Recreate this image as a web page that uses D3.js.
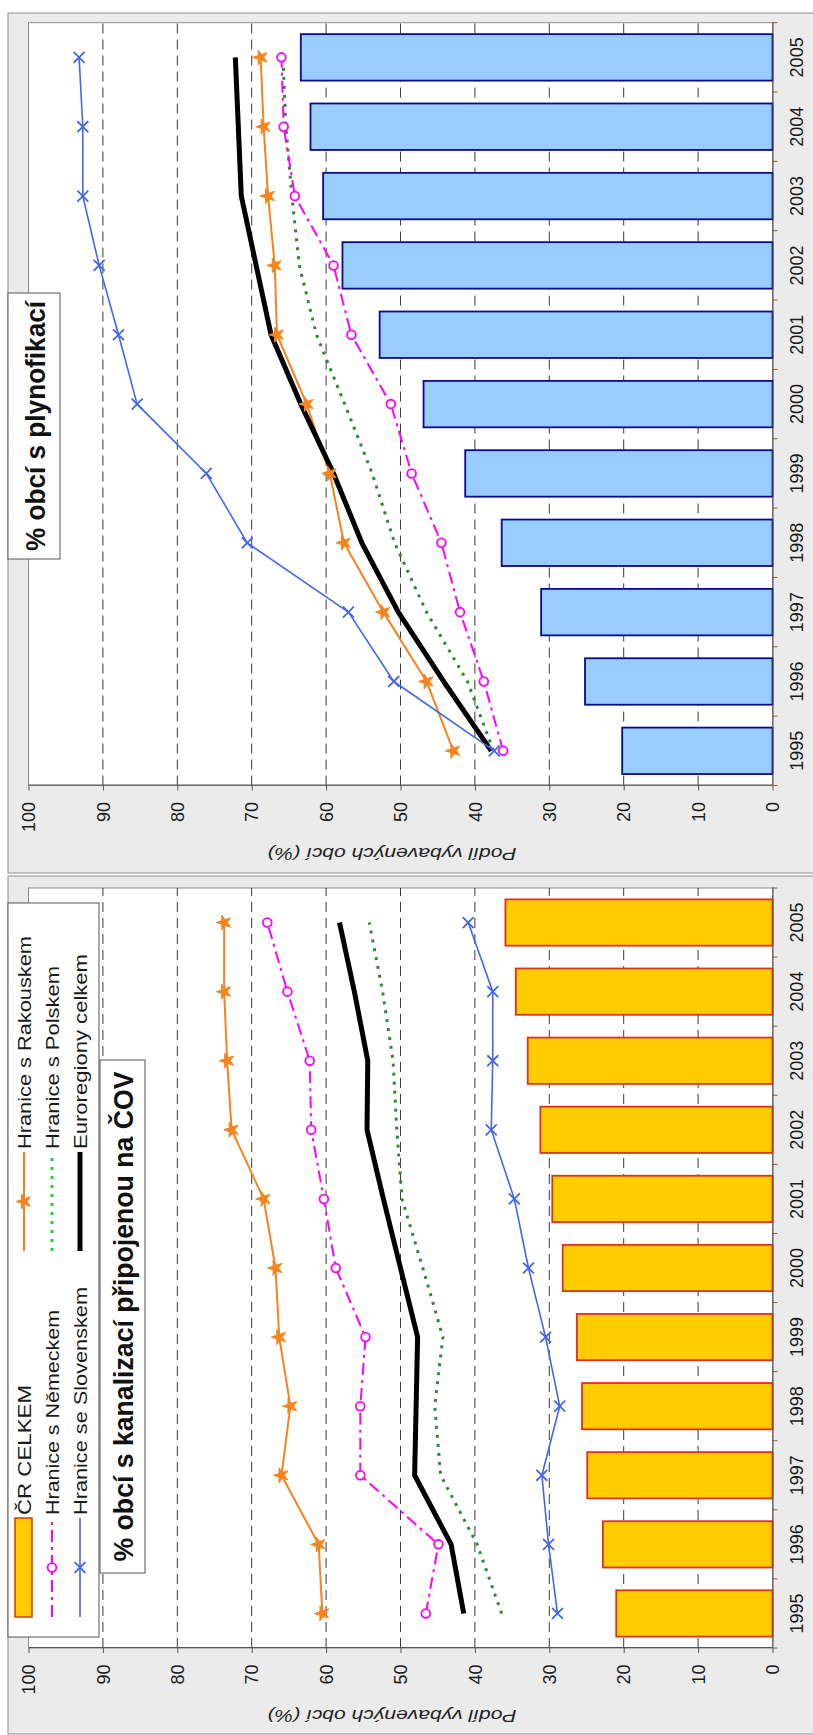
<!DOCTYPE html>
<html><head><meta charset="utf-8">
<script src="https://cdn.jsdelivr.net/npm/d3@7"></script>
<style>
html,body{margin:0;padding:0;background:#fff;}
svg{display:block;font-family:"Liberation Sans",Arial,sans-serif;}
</style>
</head><body>
<svg id="c" width="813" height="1735"></svg>
<script>
// ---------------- DATA ----------------
const years = [1995,1996,1997,1998,1999,2000,2001,2002,2003,2004,2005];
const valueTicks = [0,10,20,30,40,50,60,70,80,90,100];
const gridTicks = [10,20,30,40,50,60,70,80,90];
const axisTitle = "Podíl vybavených obcí (%)";

// % obcí s kanalizací připojenou na ČOV
const kanCR   = [21.0, 22.8, 24.9, 25.6, 26.3, 28.2, 29.6, 31.2, 32.9, 34.5, 35.9];
const kanRak  = [60.5, 61.0, 66.0, 64.8, 66.3, 66.8, 68.4, 72.7, 73.3, 73.7, 73.7];
const kanNem  = [46.6, 44.9, 55.4, 55.4, 54.7, 58.7, 60.3, 62.0, 62.2, 65.2, 67.9];
const kanSlo  = [28.9, 30.1, 31.0, 28.6, 30.5, 32.8, 34.7, 37.8, 37.6, 37.6, 40.9];
const kanPol  = [36.4, 39.7, 44.6, 45.4, 44.3, 47.0, 49.8, 50.5, 51.0, 52.4, 54.2];
const kanEuro = [41.5, 43.2, 48.1, 47.9, 47.7, 50.0, 52.3, 54.5, 54.4, 56.2, 58.2];

// % obcí s plynofikací
const plynCR   = [20.2, 25.2, 31.1, 36.4, 41.3, 46.9, 52.8, 57.8, 60.4, 62.1, 63.4];
const plynRak  = [42.9, 46.5, 52.3, 57.6, 59.5, 62.6, 66.6, 66.9, 67.8, 68.4, 68.8];
const plynNem  = [36.2, 38.8, 42.0, 44.5, 48.5, 51.3, 56.6, 59.0, 64.2, 65.7, 66.0];
const plynSlo  = [37.4, 50.9, 57.0, 70.6, 76.1, 85.4, 87.9, 90.5, 92.7, 92.7, 93.2];
const plynPol  = [37.5, 41.0, 46.5, 50.8, 53.8, 57.5, 61.3, 63.6, 64.6, 65.4, 65.8];
const plynEuro = [37.8, 44.2, 50.3, 55.2, 59.0, 63.4, 67.4, 69.4, 71.4, 71.8, 72.2];

const barName = "ČR CELKEM";
const seriesNames = {
  Rak: "Hranice s Rakouskem",
  Nem: "Hranice s Německem",
  Slo: "Hranice se Slovenskem",
  Pol: "Hranice s Polskem",
  Euro: "Euroregiony celkem"
};
const panelData = [
  {title: "% obcí s kanalizací připojenou na ČOV", bars: kanCR,
   lines: {Rak: kanRak, Nem: kanNem, Slo: kanSlo, Pol: kanPol, Euro: kanEuro}, theme: "kan"},
  {title: "% obcí s plynofikací", bars: plynCR,
   lines: {Rak: plynRak, Nem: plynNem, Slo: plynSlo, Pol: plynPol, Euro: plynEuro}, theme: "plyn"}
];

// ---------------- STYLES / LAYOUT ----------------
const styles = {
  Rak:  {color: "#f5841f", width: 2,   dash: null,       marker: "star"},
  Nem:  {color: "#ff00ff", width: 2,   dash: "12,5,3,5", marker: "circle"},
  Slo:  {color: "#4466e8", width: 1.6, dash: null,       marker: "x"},
  Pol:  {color: "#2f8a2f", width: 3,   dash: "3,6",      marker: null},
  Euro: {color: "#000000", width: 5,   dash: null,       marker: null}
};
const drawOrder = ["Pol", "Nem", "Rak", "Euro", "Slo"];
const layout = {
  kan:  {box: [1, 859], plot: [87, 847], barFill: "#ffcc00", barStroke: "#e0301e",
         titleBox: [162, 675, 100, 145], titleBase: 133, titleLen: 490, legend: true},
  plyn: {box: [862, 1722], plot: [949.5, 1712.3], barFill: "#99ccff", barStroke: "#0a0a8c",
         titleBox: [1176, 1442, 8, 60], titleBase: 45, titleLen: 250, legend: false}
};
const W = 1735; // landscape width (rotated into portrait)
const FONT = '"Liberation Sans",Arial,sans-serif';

const svg = d3.select("#c");
const root = svg.append("g").attr("transform", `translate(0,${W}) rotate(-90)`);

const y = d3.scaleLinear().domain([0, 100]).range([772.5, 28.5]);

function markerPath(type) {
  if (type === "star") return d3.symbol().type(d3.symbolStar).size(70)();
  if (type === "x") {
    if (d3.symbolX) return d3.symbol().type(d3.symbolX).size(80)();
    return d3.symbol().type(d3.symbolCross).size(80)();
  }
  return d3.symbol().type(d3.symbolCircle).size(60)();
}

panelData.forEach(pd => {
  const L = layout[pd.theme];
  const g = root.append("g");
  const [p0, p1] = L.plot;

  // panel gray box
  g.append("rect").attr("x", L.box[0]).attr("y", 8)
    .attr("width", L.box[1] - L.box[0]).attr("height", 830)
    .attr("fill", "#ebebeb").attr("stroke", "#8c8c8c").attr("stroke-width", 1);

  // plot area
  g.append("rect").attr("x", p0).attr("y", y(100))
    .attr("width", p1 - p0).attr("height", y(0) - y(100))
    .attr("fill", "#fff").attr("stroke", "#8a8a8a").attr("stroke-width", 1);

  const xs = d3.scaleBand().domain(years).range([p0, p1]).padding(0);
  const bw = xs.bandwidth();
  const cx = d => xs(d) + bw / 2;

  // gridlines
  g.append("g").selectAll("line").data(gridTicks).join("line")
    .attr("x1", p0).attr("x2", p1).attr("y1", d => y(d)).attr("y2", d => y(d))
    .attr("stroke", "#3a3a3a").attr("stroke-width", 1).attr("stroke-dasharray", "10,6");

  // bars
  g.append("g").selectAll("rect").data(years.map((yr, i) => ({yr, v: pd.bars[i]}))).join("rect")
    .attr("x", d => xs(d.yr) + bw * 0.165).attr("width", bw * 0.67)
    .attr("y", d => y(d.v)).attr("height", d => y(0) - y(d.v))
    .attr("fill", L.barFill).attr("stroke", L.barStroke).attr("stroke-width", 1.8);

  // axes
  const ay = g.append("g").attr("transform", `translate(${p0},0)`)
    .call(d3.axisLeft(y).tickValues(valueTicks).tickSize(5).tickSizeOuter(0).tickPadding(11.5));
  ay.attr("font-size", null).attr("font-family", null);
  ay.select(".domain").attr("stroke", "#555");
  ay.selectAll(".tick line").attr("stroke", "#555");
  ay.selectAll(".tick text").attr("font-size", 18).attr("fill", "#1a1a1a")
    .attr("font-family", FONT).attr("dy", "0.34em");

  const ax = g.append("g").attr("transform", `translate(0,${y(0)})`)
    .call(d3.axisBottom(xs).tickSize(0).tickSizeOuter(0).tickPadding(17.5));
  ax.attr("font-size", null).attr("font-family", null);
  ax.select(".domain").attr("stroke", "#555");
  ax.selectAll(".tick text").attr("font-size", 18).attr("fill", "#1a1a1a").attr("font-family", FONT);

  // category boundary ticks
  g.append("g").selectAll("line").data(years.map(d => xs(d)).concat([p1])).join("line")
    .attr("x1", d => d).attr("x2", d => d).attr("y1", y(0)).attr("y2", y(0) + 5)
    .attr("stroke", "#8a5a3a").attr("stroke-width", 1);

  // axis title
  const tx = p0 - 62, ty = 392;
  g.append("text").attr("transform", `translate(${tx},${ty}) rotate(-90)`)
    .attr("text-anchor", "middle").attr("font-size", 16).attr("font-style", "italic")
    .attr("fill", "#222").attr("font-family", FONT)
    .attr("textLength", 249).attr("lengthAdjust", "spacingAndGlyphs")
    .text(axisTitle);

  // lines
  const line = d3.line().x(d => cx(d.yr)).y(d => y(d.v));
  drawOrder.forEach(k => {
    const st = styles[k];
    const pts = years.map((yr, i) => ({yr, v: pd.lines[k][i]}));
    g.append("path").datum(pts).attr("d", line)
      .attr("fill", "none").attr("stroke", st.color).attr("stroke-width", st.width)
      .attr("stroke-dasharray", st.dash).attr("stroke-linejoin", "round");
  });
  drawOrder.forEach(k => {
    const st = styles[k];
    if (!st.marker) return;
    const pts = years.map((yr, i) => ({yr, v: pd.lines[k][i]}));
    g.append("g").selectAll("path").data(pts).join("path")
      .attr("transform", d => `translate(${cx(d.yr)},${y(d.v)})`)
      .attr("d", markerPath(st.marker))
      .attr("fill", st.marker === "circle" ? "#fff" : (st.marker === "star" ? st.color : "none"))
      .attr("stroke", st.color).attr("stroke-width", st.marker === "star" ? 1 : 1.8);
  });

  // legend
  if (L.legend) {
    const lg = g.append("g");
    lg.append("rect").attr("x", 98).attr("y", 8).attr("width", 734).attr("height", 91)
      .attr("fill", "#fff").attr("stroke", "#555").attr("stroke-width", 1);
    const items = [
      {kind: "bar", name: barName, col: 0, row: 0, len: 130},
      {kind: "Nem", name: seriesNames.Nem, col: 0, row: 1, len: 205},
      {kind: "Slo", name: seriesNames.Slo, col: 0, row: 2, len: 228},
      {kind: "Rak", name: seriesNames.Rak, col: 1, row: 0, len: 213},
      {kind: "Pol", name: seriesNames.Pol, col: 1, row: 1, len: 183},
      {kind: "Euro", name: seriesNames.Euro, col: 1, row: 2, len: 195}
    ];
    const colX = [118, 484], rowY = [24, 52, 80], sw = 99;
    items.forEach(it => {
      const x0 = colX[it.col], yy = rowY[it.row];
      if (it.kind === "bar") {
        lg.append("rect").attr("x", x0).attr("y", yy - 9).attr("width", sw).attr("height", 17)
          .attr("fill", L.barFill).attr("stroke", "#c8400a").attr("stroke-width", 1.5);
      } else {
        const st = styles[it.kind];
        lg.append("line").attr("x1", x0).attr("x2", x0 + sw).attr("y1", yy).attr("y2", yy)
          .attr("stroke", it.kind === "Pol" ? "#33cc33" : st.color).attr("stroke-width", st.width)
          .attr("stroke-dasharray", st.dash);
        if (st.marker) {
          lg.append("path").attr("transform", `translate(${x0 + sw / 2},${yy})`)
            .attr("d", markerPath(st.marker))
            .attr("fill", st.marker === "circle" ? "#fff" : (st.marker === "star" ? st.color : "none"))
            .attr("stroke", st.color).attr("stroke-width", st.marker === "star" ? 1 : 1.8);
        }
      }
      lg.append("text").attr("x", x0 + sw + 3).attr("y", yy + 6.5)
        .attr("font-size", 18).attr("fill", "#1a1a1a").attr("font-family", FONT)
        .attr("textLength", it.len).attr("lengthAdjust", "spacingAndGlyphs")
        .text(it.name);
    });
  }

  // title box
  const [bx0, bx1, by0, by1] = L.titleBox;
  g.append("rect").attr("x", bx0).attr("y", by0).attr("width", bx1 - bx0).attr("height", by1 - by0)
    .attr("fill", "#fff").attr("stroke", "#555").attr("stroke-width", 1);
  g.append("text").attr("x", (bx0 + bx1) / 2).attr("y", L.titleBase)
    .attr("text-anchor", "middle").attr("font-size", 27).attr("font-weight", "bold")
    .attr("fill", "#111").attr("font-family", FONT)
    .attr("textLength", L.titleLen).attr("lengthAdjust", "spacingAndGlyphs")
    .text(pd.title);
});
</script>
</body></html>
